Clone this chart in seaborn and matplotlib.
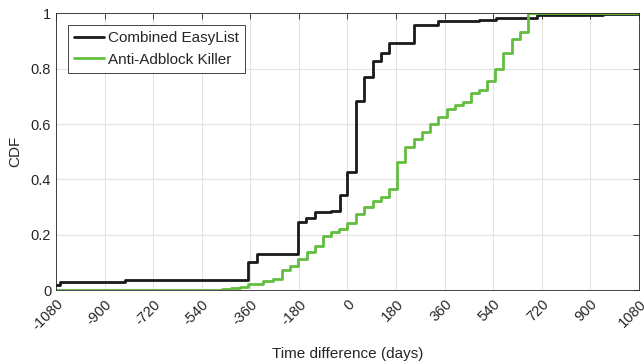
import numpy as np
import pandas as pd
import matplotlib
matplotlib.use('Agg')
import matplotlib.pyplot as plt
import seaborn as sns
from matplotlib.ticker import FuncFormatter

# --- data (step CDFs) ---
easylist_days = [-1080, -1065, -823, -367, -336, -184, -153, -120, -60, -27, 0, 31, 62, 93,
                 124, 153, 247, 337, 489, 551, 701, 946, 1080]
easylist_cdf = [0.02, 0.03, 0.036, 0.103, 0.131, 0.246, 0.26, 0.282, 0.286, 0.343, 0.428, 0.682,
                0.77, 0.828, 0.858, 0.895, 0.957, 0.971, 0.977, 0.985, 0.994, 0.998, 0.998]

aak_days = [-1080, -465, -430, -400, -367, -312, -276, -243, -212, -184, -150, -120, -89, -60,
            -30, 0, 31, 62, 93, 124, 153, 183, 214, 245, 276, 306, 337, 368, 397, 428, 457, 488,
            516, 547, 578, 609, 640, 670, 1080]
aak_cdf = [0.0, 0.003, 0.006, 0.012, 0.022, 0.034, 0.04, 0.072, 0.088, 0.112, 0.136, 0.16, 0.197,
           0.209, 0.221, 0.241, 0.275, 0.299, 0.321, 0.336, 0.366, 0.462, 0.517, 0.547, 0.571,
           0.601, 0.625, 0.656, 0.668, 0.68, 0.712, 0.725, 0.756, 0.801, 0.857, 0.906, 0.933,
           1.0, 1.0]

x_ticks = [-1080, -900, -720, -540, -360, -180, 0, 180, 360, 540, 720, 900, 1080]
y_ticks = [0, 0.2, 0.4, 0.6, 0.8, 1]

sns.set_style('white')
plt.rcParams['font.family'] = ['Liberation Sans', 'DejaVu Sans']
plt.rcParams['axes.unicode_minus'] = False

fig = plt.figure(figsize=(6.44, 3.64), dpi=100)
ax = fig.add_axes([0.087, 0.203, 0.905, 0.76])

sns.lineplot(x=easylist_days, y=easylist_cdf, ax=ax, color='#1a1a1a', lw=2.0,
             drawstyle='steps-post', estimator=None, sort=False, label='Combined EasyList')
sns.lineplot(x=aak_days, y=aak_cdf, ax=ax, color='#63bd3f', lw=2.0,
             drawstyle='steps-post', estimator=None, sort=False, label='Anti-Adblock Killer')

ax.set_xlim(-1080, 1080)
ax.set_ylim(0, 1)
ax.set_xticks(x_ticks)
ax.set_yticks(y_ticks)
ax.xaxis.set_major_formatter(FuncFormatter(lambda v, p: '%d' % v))
ax.yaxis.set_major_formatter(FuncFormatter(lambda v, p: '%g' % v))
ax.grid(True, color='#e3e3e3', lw=0.8)
ax.set_axisbelow(True)

for s in ax.spines.values():
    s.set_visible(True)
    s.set_color('#262626')
    s.set_linewidth(0.6)

ax.tick_params(direction='in', top=True, right=True, length=4, width=0.6,
               colors='#262626', labelsize=10.5)
plt.setp(ax.get_xticklabels(), rotation=45, ha='right', rotation_mode='anchor')
ax.tick_params(axis='x', pad=5)

ax.set_xlabel('Time difference (days)', fontsize=11, color='#262626', labelpad=10)
ax.set_ylabel('CDF', fontsize=11, color='#262626', labelpad=6)

leg = ax.legend(loc='upper left', bbox_to_anchor=(0.02, 0.958), fontsize=11,
                fancybox=False, framealpha=1, edgecolor='#262626',
                handlelength=2.0, handletextpad=0.25, borderpad=0.4, labelspacing=0.5,
                borderaxespad=0)
leg.get_frame().set_linewidth(0.6)

fig.savefig('out.png', dpi=100)
